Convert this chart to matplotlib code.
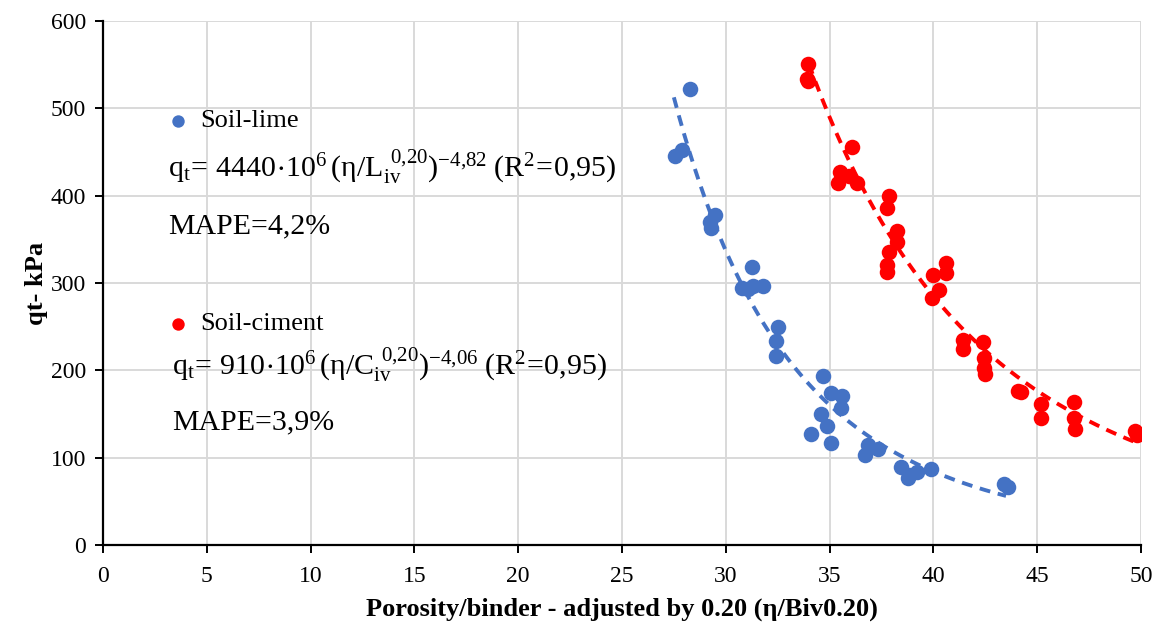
import numpy as np
import matplotlib
matplotlib.use("Agg")
import matplotlib.pyplot as plt

plt.rcParams['font.family'] = ['Liberation Serif', 'DejaVu Serif']
plt.rcParams['mathtext.fontset'] = 'custom'
plt.rcParams['mathtext.rm'] = 'Liberation Serif'
plt.rcParams['mathtext.it'] = 'Liberation Serif'

# soil-lime points (eta/Liv^0.20, qt kPa)
lime_x = [28.3, 27.55, 27.9, 29.5, 29.25, 29.3, 31.25, 30.8, 31.05, 31.3, 31.8,
          32.5, 32.4, 32.4, 34.7, 35.05, 35.6, 35.55, 34.6, 34.9, 34.1, 35.05,
          36.85, 37.35, 36.7, 38.45, 38.85, 39.2, 39.9, 38.8, 43.4, 43.6]
lime_y = [522, 446, 452, 378, 370, 363, 318, 294, 293, 297, 297,
          250, 234, 217, 194, 174, 171, 157, 150, 136, 127, 117,
          115, 110, 103, 89, 80, 84, 87, 77, 70, 66]

# soil-cement points
cim_x = [33.95, 33.9, 33.95, 36.1, 35.5, 35.4, 35.95, 36.3, 37.85, 37.75,
         38.25, 38.25, 37.85, 37.75, 37.75, 40.6, 40.6, 40.0, 40.25, 39.95,
         41.45, 41.45, 42.4, 42.45, 42.45, 42.5, 44.1, 44.2, 45.2, 45.2,
         46.75, 46.75, 46.8, 49.7, 49.8]
cim_y = [551, 534, 531, 456, 427, 414, 422, 414, 400, 386,
         359, 347, 335, 321, 313, 323, 311, 309, 292, 283,
         235, 225, 233, 214, 203, 196, 176, 175, 162, 146,
         164, 145, 133, 130, 126]

# fitted trend coefficients printed on the chart
lime_a, lime_b = 4440e6, -4.82
cim_a, cim_b = 910e6, -4.06
lime_range = (27.5, 43.5)
cim_range = (34.0, 49.8)

blue = '#4472C4'
red = '#FF0000'

fig = plt.figure(figsize=(11.58, 6.33), dpi=100)
ax = fig.add_axes([0.0889, 0.139, 0.8964, 0.8278])

ax.set_xlim(0, 50)
ax.set_ylim(0, 600)
ax.set_xticks(np.arange(0, 51, 5))
ax.set_yticks(np.arange(0, 601, 100))
ax.grid(True, color='#d9d9d9', linewidth=1.4)
ax.set_axisbelow(True)
for side in ['top', 'right']:
    ax.spines[side].set_visible(False)
for side in ['left', 'bottom']:
    ax.spines[side].set_linewidth(1.6)
ax.tick_params(axis='both', direction='out', length=6, width=1.4, labelsize=17)
ax.tick_params(axis='x', pad=9)
ax.tick_params(axis='y', pad=6)

ax.scatter(lime_x, lime_y, s=125, color=blue, zorder=3, linewidths=0)
ax.scatter(cim_x, cim_y, s=125, color=red, zorder=3, linewidths=0)

xl = np.linspace(*lime_range, 200)
ax.plot(xl, lime_a * xl ** lime_b, color=blue, linestyle=(0, (2.8, 2.0)), linewidth=2.8, zorder=4)
xc = np.linspace(*cim_range, 200)
ax.plot(xc, cim_a * xc ** cim_b, color=red, linestyle=(0, (2.8, 2.0)), linewidth=2.8, zorder=4)

# legend-style labels and equations
ax.scatter([3.6], [485], s=80, color=blue, zorder=5, linewidths=0)
ax.text(4.7, 485, 'Soil-lime', fontsize=19, va='center', ha='left')
ax.text(3.15, 432, r'$\mathregular{q_t\!=\,4440\!\cdot\!10^6\,(\eta/L_{iv}^{\;\,0{,}20})^{-4{,}82}\;(R^2\!=\!0{,}95)}$',
        fontsize=21.5, va='center', ha='left')
ax.text(3.15, 365, 'MAPE=4,2%', fontsize=21.5, va='center', ha='left')

ax.scatter([3.6], [253], s=80, color=red, zorder=5, linewidths=0)
ax.text(4.7, 253, 'Soil-ciment', fontsize=19, va='center', ha='left')
ax.text(3.35, 206, r'$\mathregular{q_t\!=\,910\!\cdot\!10^6\,(\eta/C_{iv}^{\;\,0{,}20})^{-4{,}06}\;(R^2\!=\!0{,}95)}$',
        fontsize=21.5, va='center', ha='left')
ax.text(3.35, 140, 'MAPE=3,9%', fontsize=21.5, va='center', ha='left')

ax.set_xlabel('Porosity/binder - adjusted by 0.20 (η/Biv0.20)', fontsize=19, fontweight='bold', labelpad=8)
ax.set_ylabel('qt- kPa', fontsize=19, fontweight='bold', labelpad=2)

fig.savefig('out.png', dpi=100)
